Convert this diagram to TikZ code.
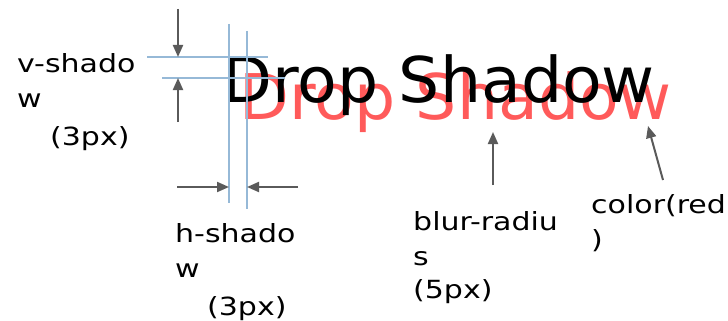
\documentclass[tikz,border=0pt]{standalone}
\usepackage{fontspec}
\newfontfamily\titlefont[FakeStretch=1.03]{DejaVu Sans}
\newfontfamily\lblfont[FakeStretch=1.2]{DejaVu Sans}
\usetikzlibrary{arrows.meta}
\definecolor{shred}{RGB}{255,90,90}
\definecolor{guide}{RGB}{150,185,215}
\definecolor{arr}{RGB}{90,90,90}
\begin{document}
\begin{tikzpicture}[x=1pt,y=-1pt,
  guideline/.style={draw=guide,line width=1.8pt},
  pointer/.style={draw=arr,line width=2pt,-{Triangle[length=12pt,width=10pt]}},
  lbl/.style={font=\lblfont\fontsize{25}{35}\selectfont,anchor=base west,align=left,inner sep=0pt},
  title/.style={font=\titlefont\fontsize{63}{70}\selectfont,anchor=base west,inner sep=0pt}]
\useasboundingbox (0,0) rectangle (728,321);
% title and its shadow
\node[title,text=shred] (shadow) at (239,119) {Drop Shadow};
\node[title,text=black] (text) at (222,102) {Drop Shadow};
% guides
\coordinate (h1a) at (147,57); \coordinate (h1b) at (268,57);
\coordinate (h2a) at (162,78); \coordinate (h2b) at (285,78);
\coordinate (v1a) at (229,24); \coordinate (v1b) at (229,203);
\coordinate (v2a) at (247,31); \coordinate (v2b) at (247,209);
\draw[guideline] (h1a) -- (h1b);
\draw[guideline] (h2a) -- (h2b);
\draw[guideline] (v1a) -- (v1b);
\draw[guideline] (v2a) -- (v2b);
% labels (anchored at the baseline of their last line)
\node[lbl] (vlbl) at (17,145) {v-shado\\w\\[3pt]\hspace*{33pt}(3px)};
\node[lbl] (hlbl) at (175,315) {h-shado\\w\\[3pt]\hspace*{32pt}(3px)};
\node[lbl] (blbl) at (413,298) {blur-radiu\\s\\[-2pt](5px)};
\node[lbl] (clbl) at (591,248) {color(red\\)};
% pointers
\coordinate (vt0) at (178,9); \coordinate (vt1) at (178,57);
\coordinate (vb0) at (178,122); \coordinate (vb1) at (178,78);
\coordinate (hl0) at (177,187); \coordinate (hl1) at (229,187);
\coordinate (hr0) at (298,187); \coordinate (hr1) at (247,187);
\coordinate (b0) at (493,185); \coordinate (b1) at (493,132);
\coordinate (c0) at (663,180); \coordinate (c1) at (648,126);
\draw[pointer] (vt0) -- (vt1);
\draw[pointer] (vb0) -- (vb1);
\draw[pointer] (hl0) -- (hl1);
\draw[pointer] (hr0) -- (hr1);
\draw[pointer] (b0) -- (b1);
\draw[pointer] (c0) -- (c1);
\end{tikzpicture}
\end{document}
